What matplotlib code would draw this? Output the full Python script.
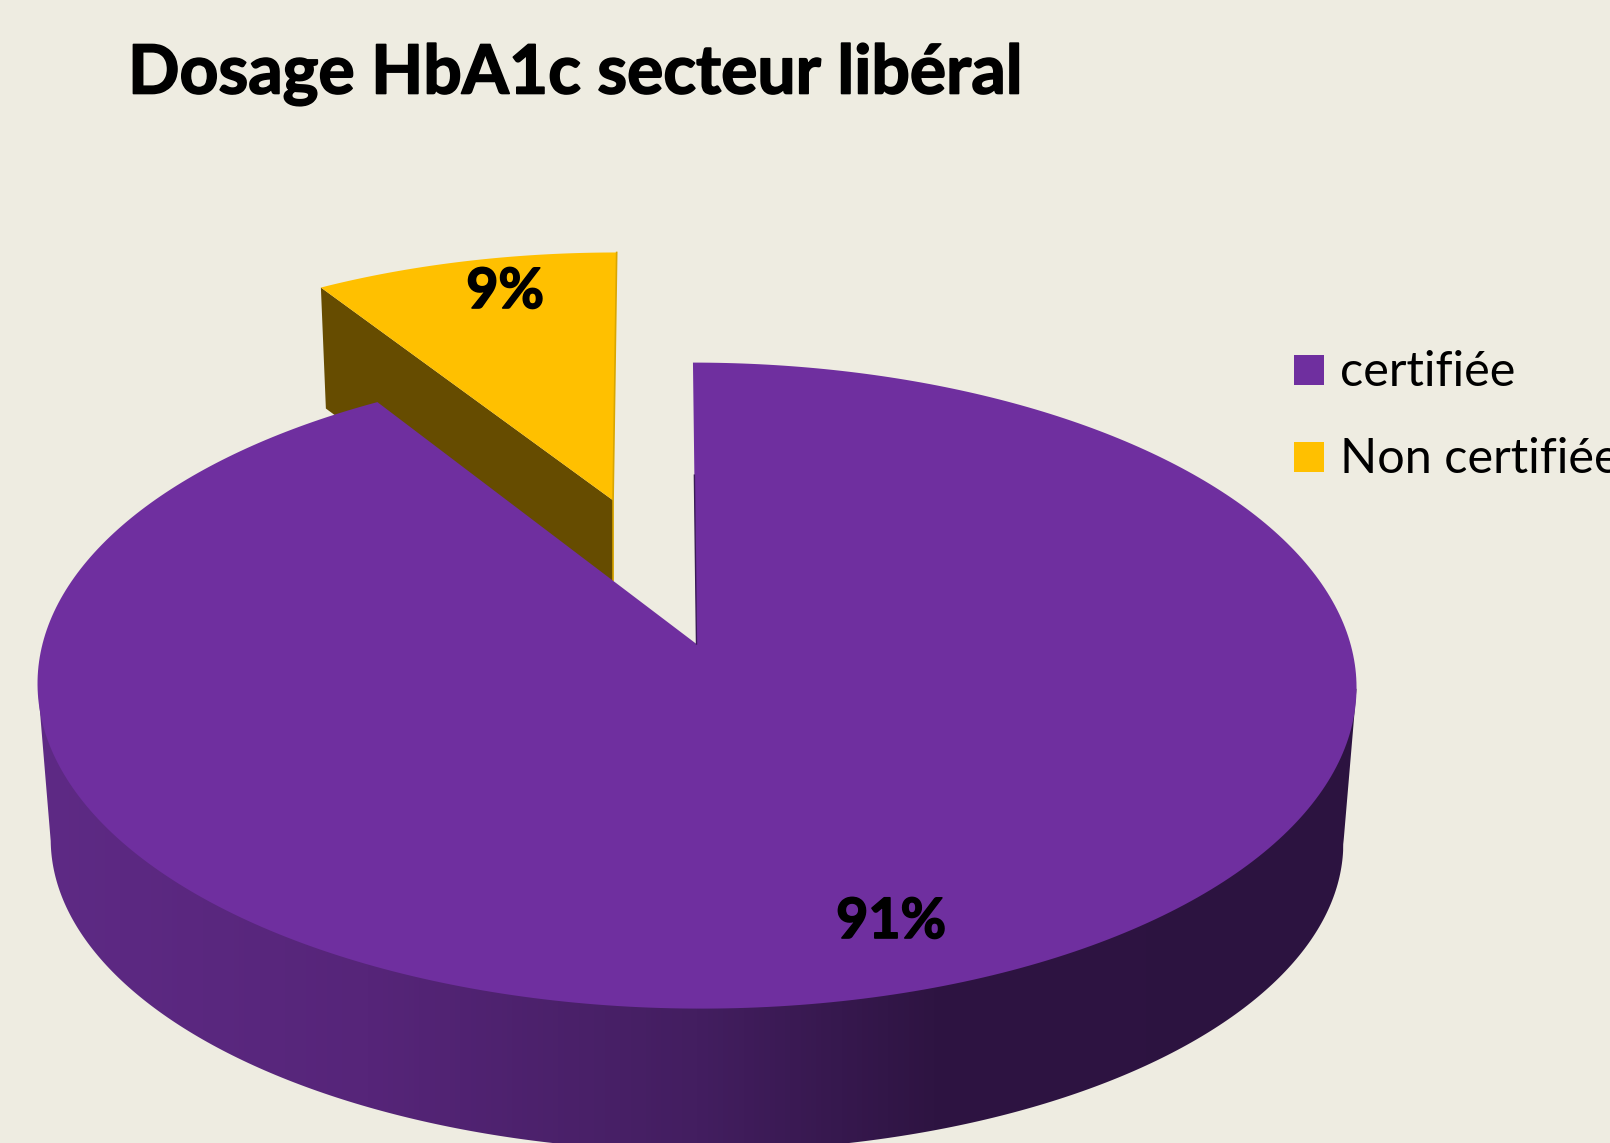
import numpy as np
import matplotlib
matplotlib.use("Agg")
import matplotlib.pyplot as plt
import matplotlib.patheffects as pe
from matplotlib.colors import LinearSegmentedColormap
from matplotlib.patches import Polygon, Rectangle

title = "Dosage HbA1c secteur libéral"
labels = ["certifiée", "Non certifiée"]
values = [91, 9]
percent_text = ["91%", "9%"]
colors = ["#6F2F9F", "#FFC000"]

W, H = 1610, 1143
BG = "#EEECE1"

plt.rcParams["font.family"] = ["Lato", "DejaVu Sans"]

fig = plt.figure(figsize=(W / 100, H / 100), dpi=100, facecolor=BG)
ax = fig.add_axes([0, 0, 1, 1])
ax.set_xlim(0, W)
ax.set_ylim(H, 0)
ax.axis("off")

# perspective of the disc, worked out from the top / bottom / apex of the ellipse
X0, Y0 = 696.5, 644.0
KX, SKEW = 654.0, -4.0
A, C = -234.7, 0.1288


def project(u, v):
    d = C * v + 1
    return X0 + (KX * u + SKEW * v) / d, (A * v + Y0) / d


def arc(a0, a1, du=0, dv=0, r=1.0, n=200):
    t = np.radians(np.linspace(a0, a1, n))
    return project(r * np.sin(t) + du, r * np.cos(t) + dv)


# angles clockwise from 12 o'clock
end_big = 360 * values[0] / sum(values)

# exploded slice: cut face first, the big slice hides its lower part
mid = np.radians((end_big + 360) / 2)
du, dv = 0.475 * np.sin(mid), 0.5 * np.cos(mid)
tip_x, tip_y = project(du, dv)
xs, ys = arc(end_big, 360, du, dv, r=0.985)
xs = xs + 0.008 * (ys - tip_y)  # the slice leans a little in the picture
ax.add_patch(Polygon([(xs[0], ys[0]), (tip_x, tip_y), (tip_x, tip_y + 121), (xs[0] + 5, ys[0] + 121)],
                     fc="#664C00", ec="none", zorder=1))
ax.add_patch(Polygon(np.r_[np.c_[xs, ys], [(tip_x, tip_y)]], fc=colors[1], ec="none", zorder=2))
ax.plot([xs[-1], tip_x, tip_x], [ys[-1], tip_y, tip_y + 80], color="#D9A600", lw=1.2, zorder=2.5)

# wall of the big slice: lower half of the underside joined to the widest points of the top
xt, yt = arc(0, 360, n=600)
xb = X0 + (xt - X0) * 0.98
yb = yt * 0.96 + 183
i_left, i_right = np.argmin(xt), np.argmax(xt)
lower = yb > yb[np.argmin(xb)]
low = np.c_[xb[lower], yb[lower]]
low = low[np.argsort(low[:, 0])]
wall = np.r_[[(xt[i_left], yt[i_left])], low, [(xt[i_right], yt[i_right])]]
ramp = LinearSegmentedColormap.from_list(
    "wall", [(0, "#5E2A85"), (0.25, "#562579"), (0.5, "#431E60"), (0.68, "#2E1442"), (1, "#2C1340")])
im = ax.imshow(np.linspace(0, 1, 256)[None, :], cmap=ramp, aspect="auto",
               extent=(xt.min(), xt.max(), H, 0), zorder=3)
ax.set_xlim(0, W)
ax.set_ylim(H, 0)
wall_patch = Polygon(wall, fc="none", ec="none")
ax.add_patch(wall_patch)
im.set_clip_path(wall_patch)

# top of the big slice
xs, ys = arc(0, end_big, n=400)
ox, oy = project(0, 0)
ax.add_patch(Polygon(np.r_[np.c_[xs, ys], [(ox, oy)]], fc=colors[0], ec="none", zorder=4))
# dark sliver of the cut face next to the gap
ax.plot([xs[0] + 0.4 * (ox - xs[0]), ox], [ys[0] + 0.4 * (oy - ys[0]), oy], color="#3A1A58", lw=1.0, zorder=4.5)

# texts, thickened a little to get the weight of the original
heavy = [pe.withStroke(linewidth=1.2, foreground="black")]
ax.text(128, 75, title, fontsize=48.8, fontweight="bold", color="black", va="center", ha="left",
        zorder=6, path_effects=heavy)
ax.text(505, 292, percent_text[1], fontsize=40, fontweight="bold", ha="center", va="center",
        zorder=6, path_effects=heavy)
ax.text(891, 922, percent_text[0], fontsize=40, fontweight="bold", ha="center", va="center",
        zorder=6, path_effects=heavy)

# legend
for i, (lab, col) in enumerate(zip(labels, colors)):
    y = 370 + i * 87
    ax.add_patch(Rectangle((1294, y - 15), 30, 30, fc=col, ec="none", zorder=5))
    ax.text(1340, y + 2, lab, fontsize=35, color="black", va="center", ha="left", zorder=6)

fig.savefig("out.png", dpi=100, facecolor=BG)
